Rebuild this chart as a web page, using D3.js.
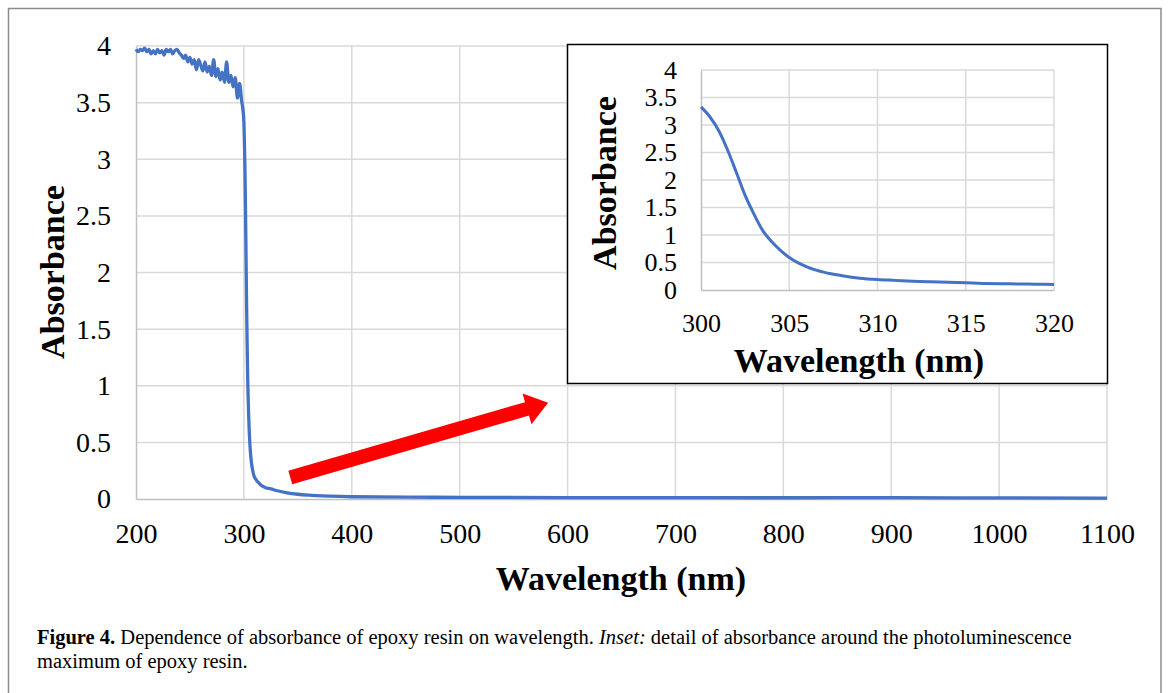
<!DOCTYPE html>
<html>
<head>
<meta charset="utf-8">
<script src="https://cdn.jsdelivr.net/npm/d3@7"></script>
<style>
	body { margin: 0; background: #fff; }
	svg { display: block; }
	text, tspan { font-family: "Liberation Serif", "Times New Roman", serif; fill: #000; }
</style>
</head>
<body>
<script>
// wavelength (nm) and absorbance
var wavelength = [200, 202, 204, 206, 208, 210, 212, 214, 216, 218, 220, 222, 224, 226, 228, 230,
	232, 234, 236, 238, 240, 242, 244, 246, 248, 250, 252, 254, 256, 258, 260, 262, 264, 266, 268,
	270, 272, 274, 276, 278, 280, 282, 284, 286, 288, 290, 292, 294, 296, 298, 299,
	300, 300.5, 301, 301.5, 302, 302.5, 303, 303.5, 304, 304.5, 305, 306, 307, 308, 309, 310,
	311, 312, 313, 314, 315, 316, 317, 318, 319, 320,
	325, 330, 340, 350, 360, 380, 400, 450, 500, 600, 700, 800, 900, 1000, 1100];
var absorbance = [3.97, 3.95, 3.97, 3.96, 3.98, 3.95, 3.97, 3.93, 3.96, 3.93, 3.97, 3.94, 3.96, 3.92, 3.97, 3.95,
	3.97, 3.93, 3.96, 3.97, 3.94, 3.92, 3.89, 3.92, 3.86, 3.90, 3.84, 3.88, 3.79, 3.88, 3.83, 3.78, 3.86, 3.77, 3.82,
	3.74, 3.88, 3.73, 3.80, 3.70, 3.77, 3.68, 3.86, 3.68, 3.74, 3.64, 3.72, 3.54, 3.67, 3.51, 3.45,
	3.33, 3.15, 2.90, 2.55, 2.14, 1.72, 1.38, 1.08, 0.88, 0.72, 0.59, 0.42, 0.32, 0.26, 0.215, 0.19,
	0.175, 0.16, 0.15, 0.14, 0.13, 0.12, 0.115, 0.11, 0.105, 0.10,
	0.09, 0.075, 0.055, 0.042, 0.034, 0.025, 0.02, 0.016, 0.015, 0.013, 0.012, 0.011, 0.012, 0.010, 0.008];

var xTicks = [200, 300, 400, 500, 600, 700, 800, 900, 1000, 1100];
var yTicks = [0, 0.5, 1, 1.5, 2, 2.5, 3, 3.5, 4];
var insetXTicks = [300, 305, 310, 315, 320];
var insetYTicks = [0, 0.5, 1, 1.5, 2, 2.5, 3, 3.5, 4];
// arrow from / to, in data units of the main chart
var arrowFrom = [343, 0.19];
var arrowTo = [582, 0.85];

var serif = '"Liberation Serif", "Times New Roman", serif';

var data = wavelength.map(function(w, i) { return {w: w, a: absorbance[i]}; });
var insetData = data.filter(function(d) { return d.w >= 300 && d.w <= 320; });

var svg = d3.select('body').append('svg')
	.attr('width', 1170)
	.attr('height', 693);

svg.append('rect')
	.attr('width', 1170)
	.attr('height', 693)
	.attr('fill', '#fff');

// figure frame
svg.append('rect')
	.attr('x', 8.5)
	.attr('y', 8.5)
	.attr('width', 1152.5)
	.attr('height', 700)
	.attr('fill', 'none')
	.attr('stroke', '#8c8c8c')
	.attr('stroke-width', 1.5);

//MAIN CHART
var x = d3.scaleLinear().domain([200, 1100]).range([136, 1107]);
var y = d3.scaleLinear().domain([0, 4]).range([499, 46]);

var grid = svg.append('g');
grid.selectAll('.vg').data(xTicks.slice(1)).enter().append('line')
	.attr('x1', function(d) { return x(d); })
	.attr('x2', function(d) { return x(d); })
	.attr('y1', y(0))
	.attr('y2', y(4))
	.attr('stroke', '#d9d9d9')
	.attr('stroke-width', 1.5);
grid.selectAll('.hg').data(yTicks.slice(1)).enter().append('line')
	.attr('x1', x(200))
	.attr('x2', x(1100))
	.attr('y1', function(d) { return y(d); })
	.attr('y2', function(d) { return y(d); })
	.attr('stroke', '#d9d9d9')
	.attr('stroke-width', 1.5);

var xAxis = svg.append('g')
	.attr('transform', 'translate(0,' + y(0) + ')')
	.call(d3.axisBottom(x).tickValues(xTicks).tickSize(0).tickPadding(24).tickFormat(d3.format('d')));
var yAxis = svg.append('g')
	.attr('transform', 'translate(' + x(200) + ',0)')
	.call(d3.axisLeft(y).tickValues(yTicks).tickSize(0).tickPadding(25).tickFormat(d3.format('')));

[xAxis, yAxis].forEach(function(a) {
	a.attr('font-family', serif);
	a.select('.domain').attr('stroke', '#bfbfbf').attr('stroke-width', 1.5);
	a.selectAll('text').style('font-family', serif).style('font-size', '28px').attr('fill', '#000');
});

svg.append('text')
	.attr('x', 621)
	.attr('y', 590)
	.attr('text-anchor', 'middle')
	.style('font-family', serif)
	.style('font-size', '34px')
	.style('font-weight', 'bold')
	.text('Wavelength (nm)');

svg.append('text')
	.attr('transform', 'translate(64,272) rotate(-90)')
	.attr('text-anchor', 'middle')
	.style('font-family', serif)
	.style('font-size', '34px')
	.style('font-weight', 'bold')
	.text('Absorbance');

var line = d3.line()
	.x(function(d) { return x(d.w); })
	.y(function(d) { return y(d.a); })
	.curve(d3.curveMonotoneX);

svg.append('path')
	.datum(data)
	.attr('d', line)
	.attr('fill', 'none')
	.attr('stroke', '#4472c4')
	.attr('stroke-width', 3.3)
	.attr('stroke-linejoin', 'round');

// red arrow
var ax0 = x(arrowFrom[0]), ay0 = y(arrowFrom[1]);
var ax1 = x(arrowTo[0]), ay1 = y(arrowTo[1]);
var len = Math.sqrt((ax1 - ax0) * (ax1 - ax0) + (ay1 - ay0) * (ay1 - ay0));
var ang = Math.atan2(ay1 - ay0, ax1 - ax0) * 180 / Math.PI;
var shaft = 7, head = 16, headLen = 22;
svg.append('path')
	.attr('transform', 'translate(' + ax0 + ',' + ay0 + ') rotate(' + ang + ')')
	.attr('d', 'M0,' + (-shaft) + 'L' + (len - headLen) + ',' + (-shaft) + 'L' + (len - headLen) + ',' + (-head) +
		'L' + len + ',0L' + (len - headLen) + ',' + head + 'L' + (len - headLen) + ',' + shaft + 'L0,' + shaft + 'Z')
	.attr('fill', '#ff0000');

//INSET
svg.append('rect')
	.attr('x', 567.5)
	.attr('y', 44.5)
	.attr('width', 540)
	.attr('height', 339)
	.attr('fill', '#fff')
	.attr('stroke', '#000')
	.attr('stroke-width', 1.5);

var ix = d3.scaleLinear().domain([300, 320]).range([701, 1054]);
var iy = d3.scaleLinear().domain([0, 4]).range([290, 70]);

var igrid = svg.append('g');
igrid.selectAll('.vg').data(insetXTicks.slice(1)).enter().append('line')
	.attr('x1', function(d) { return ix(d); })
	.attr('x2', function(d) { return ix(d); })
	.attr('y1', iy(0))
	.attr('y2', iy(4))
	.attr('stroke', '#d9d9d9')
	.attr('stroke-width', 1.5);
igrid.selectAll('.hg').data(insetYTicks.slice(1)).enter().append('line')
	.attr('x1', ix(300))
	.attr('x2', ix(320))
	.attr('y1', function(d) { return iy(d); })
	.attr('y2', function(d) { return iy(d); })
	.attr('stroke', '#d9d9d9')
	.attr('stroke-width', 1.5);

var ixAxis = svg.append('g')
	.attr('transform', 'translate(0,' + iy(0) + ')')
	.call(d3.axisBottom(ix).tickValues(insetXTicks).tickSize(0).tickPadding(24).tickFormat(d3.format('d')));
var iyAxis = svg.append('g')
	.attr('transform', 'translate(' + ix(300) + ',0)')
	.call(d3.axisLeft(iy).tickValues(insetYTicks).tickSize(0).tickPadding(24).tickFormat(d3.format('')));

[ixAxis, iyAxis].forEach(function(a) {
	a.attr('font-family', serif);
	a.select('.domain').attr('stroke', '#bfbfbf').attr('stroke-width', 1.5);
	a.selectAll('text').style('font-family', serif).style('font-size', '26px').attr('fill', '#000');
});

svg.append('text')
	.attr('x', 859)
	.attr('y', 372)
	.attr('text-anchor', 'middle')
	.style('font-family', serif)
	.style('font-size', '34px')
	.style('font-weight', 'bold')
	.text('Wavelength (nm)');

svg.append('text')
	.attr('transform', 'translate(616,183) rotate(-90)')
	.attr('text-anchor', 'middle')
	.style('font-family', serif)
	.style('font-size', '34px')
	.style('font-weight', 'bold')
	.text('Absorbance');

var iline = d3.line()
	.x(function(d) { return ix(d.w); })
	.y(function(d) { return iy(d.a); })
	.curve(d3.curveMonotoneX);

svg.append('path')
	.datum(insetData)
	.attr('d', iline)
	.attr('fill', 'none')
	.attr('stroke', '#4472c4')
	.attr('stroke-width', 3);

//CAPTION
var cap = svg.append('text')
	.attr('x', 37)
	.attr('y', 644)
	.style('font-family', serif)
	.style('font-size', '20.5px');
cap.append('tspan').style('font-weight', 'bold').text('Figure 4.');
cap.append('tspan').text(' Dependence of absorbance of epoxy resin on wavelength. ');
cap.append('tspan').style('font-style', 'italic').text('Inset:');
cap.append('tspan').text(' detail of absorbance around the photoluminescence');

svg.append('text')
	.attr('x', 37)
	.attr('y', 668)
	.style('font-family', serif)
	.style('font-size', '20.5px')
	.text('maximum of epoxy resin.');
</script>
</body>
</html>
